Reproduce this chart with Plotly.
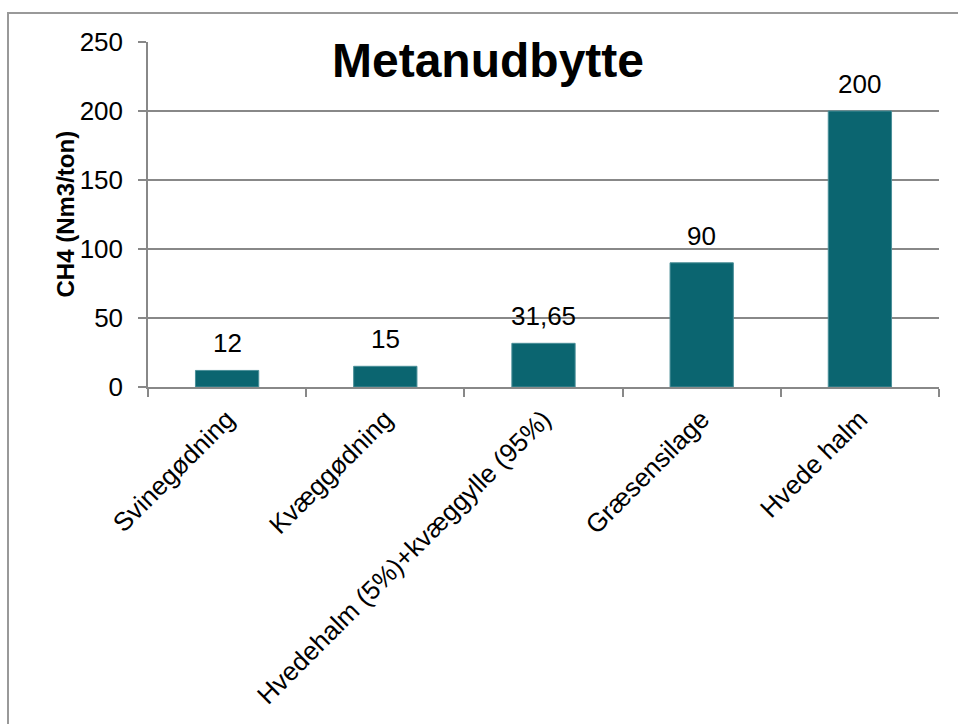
import plotly.graph_objects as go

# Methane yield per feedstock
categories = [
    "Svinegødning",
    "Kvæggødning",
    "Hvedehalm (5%)+kvæggylle (95%)",
    "Græsensilage",
    "Hvede halm",
]
methane_yield = [12, 15, 31.65, 90, 200]

y_ticks = [0, 50, 100, 150, 200, 250]

FONT = "Liberation Sans, Arial, sans-serif"
BAR_COLOR = "#0B6570"
GRID_COLOR = "#888888"

W, H = 958, 724
# plot area in pixels
L, R, T, B = 148, 939, 42, 387


def px_x(px):
    return (px - L) / (R - L)


def px_y(py):
    return (B - py) / (B - T)


def fmt(v):
    return f"{v:g}".replace(".", ",")


fig = go.Figure(
    go.Bar(
        x=categories,
        y=methane_yield,
        marker=dict(color=BAR_COLOR, line=dict(color="#4A8F98", width=1)),
        hoverinfo="x+y",
    )
)

# value labels above the bars
for c, v in zip(categories, methane_yield):
    fig.add_annotation(
        x=c, y=v, xref="x", yref="y",
        text=fmt(v), showarrow=False,
        yanchor="bottom", yshift=10,
        font=dict(family=FONT, size=26, color="black"),
    )

# chart title
fig.add_annotation(
    x=px_x(488), y=px_y(60), xref="paper", yref="paper",
    text="<b>Metanudbytte</b>", showarrow=False,
    xanchor="center", yanchor="middle",
    font=dict(family=FONT, size=48, color="black"),
)

# y-axis title
fig.add_annotation(
    x=px_x(65), y=0.5, xref="paper", yref="paper",
    text="<b>CH4 (Nm3/ton)</b>", showarrow=False, textangle=-90,
    xanchor="center", yanchor="middle",
    font=dict(family=FONT, size=24, color="black"),
)

# chart frame
fig.add_shape(
    type="rect", xref="paper", yref="paper",
    x0=px_x(8), x1=px_x(975), y0=px_y(740), y1=px_y(13),
    line=dict(color="#999999", width=2), fillcolor="rgba(0,0,0,0)",
    layer="below",
)

fig.update_layout(
    width=W, height=H,
    margin=dict(l=L, r=W - R, t=T, b=H - B, pad=0),
    paper_bgcolor="white", plot_bgcolor="white",
    bargap=0.6,
    showlegend=False,
    font=dict(family=FONT, size=26, color="black"),
)

fig.update_xaxes(
    type="category",
    range=[-0.5, len(categories) - 0.5],
    tickson="boundaries",
    ticks="outside", ticklen=8, tickwidth=1.5, tickcolor=GRID_COLOR,
    tickangle=-45,
    ticklabelstandoff=5,
    tickfont=dict(family=FONT, size=26, color="black"),
    showline=True, linecolor=GRID_COLOR, linewidth=1.5,
    showgrid=False, zeroline=False,
)

fig.update_yaxes(
    range=[0, 250],
    tickvals=y_ticks,
    ticktext=[str(t) for t in y_ticks],
    ticks="outside", ticklen=8, tickwidth=1.5, tickcolor=GRID_COLOR,
    ticklabelstandoff=10,
    tickfont=dict(family=FONT, size=26, color="black"),
    showline=True, linecolor=GRID_COLOR, linewidth=1.5,
    showgrid=True, gridcolor=GRID_COLOR, gridwidth=1.5,
    zeroline=False,
)

fig.write_html("out.html")
